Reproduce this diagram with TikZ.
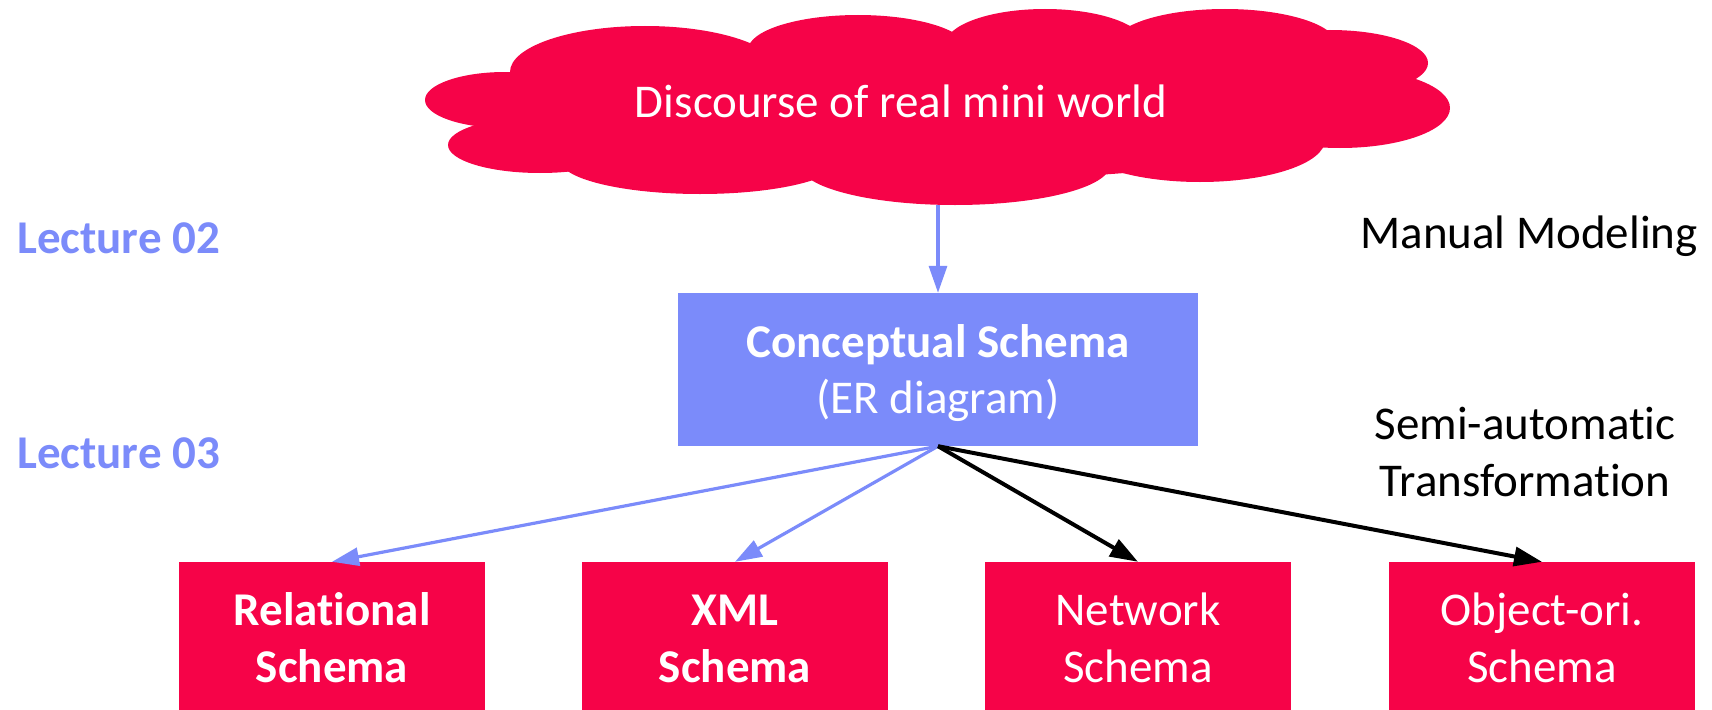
\documentclass[tikz,border=0pt]{standalone}
\usepackage{fontspec}
\setmainfont[Ligatures={NoCommon}]{Carlito}
\usetikzlibrary{arrows.meta}

\definecolor{cloudred}{RGB}{246,3,72}
\definecolor{lecblue}{RGB}{123,139,250}

\tikzset{
  txt/.style={inner sep=0pt, anchor=base, font=\fontsize{47}{57}\selectfont},
  boldtxt/.style={txt, font=\fontsize{47}{57}\selectfont\bfseries},
  redbox/.style={fill=cloudred, draw=none, inner sep=0pt,
                 minimum width=306pt, minimum height=148pt},
  bluebox/.style={fill=lecblue, draw=none, inner sep=0pt,
                  minimum width=520pt, minimum height=153pt},
  bluearrow/.style={draw=lecblue, line width=3.2pt,
                    -{Triangle[length=27pt,width=18pt]}},
  blackarrow/.style={draw=black, line width=4pt,
                     -{Triangle[length=28pt,width=19pt]}},
}

\begin{document}
\begin{tikzpicture}[x=1pt, y=-1pt]
\useasboundingbox (0,0) rectangle (1712,709);

% the cloud: a union of filled ellipses
\begin{scope}[fill=cloudred]
  \fill (937,110) ellipse [x radius=430pt, y radius=70pt];
  \fill (505,100) ellipse [x radius=80pt,  y radius=28pt];
  \fill (540,145) ellipse [x radius=92pt,  y radius=28pt];
  \fill (700,160) ellipse [x radius=140pt, y radius=34pt];
  \fill (955,165) ellipse [x radius=155pt, y radius=40pt];
  \fill (1200,140) ellipse [x radius=125pt, y radius=42pt];
  \fill (1340,108) ellipse [x radius=110pt, y radius=40pt];
  \fill (1330,63) ellipse [x radius=98pt,  y radius=33pt];
  \fill (1225,45) ellipse [x radius=112pt, y radius=36pt];
  \fill (1045,45) ellipse [x radius=100pt, y radius=36pt];
  \fill (858,50) ellipse [x radius=110pt, y radius=35pt];
  \fill (645,72) ellipse [x radius=135pt, y radius=46pt];
\end{scope}
\coordinate (cloudbottom) at (938,205);
\node[txt, text=white] (world) at (901,117) {Discourse of real mini world};

% side labels
\node[boldtxt, anchor=base west, text=lecblue] (lec2) at (17,253) {Lecture 02};
\node[boldtxt, anchor=base west, text=lecblue] (lec3) at (17,468) {Lecture 03};
\node[txt, anchor=base east] (manual) at (1698,248) {Manual Modeling};
\node[txt] (semi) at (1525,439) {Semi-automatic};
\node[txt] (trans) at (1525,496) {Transformation};

% conceptual schema
\node[bluebox] (concept) at (938,369.5) {};
\node[boldtxt, text=white] (conceptA) at (938,357) {Conceptual Schema};
\node[txt, text=white] (conceptB) at (938,413) {(ER diagram)};

% target schemas
\node[redbox] (rel) at (332,636) {};
\node[redbox] (xml) at (735,636) {};
\node[redbox] (net) at (1138,636) {};
\node[redbox] (obj) at (1542,636) {};

\node[boldtxt, text=white] (relA) at (332,625) {Relational};
\node[boldtxt, text=white] (relB) at (332,682) {Schema};
\node[boldtxt, text=white] (xmlA) at (735,625) {XML};
\node[boldtxt, text=white] (xmlB) at (735,682) {Schema};
\node[txt, text=white] (netA) at (1138,625) {Network};
\node[txt, text=white] (netB) at (1138,682) {Schema};
\node[txt, text=white] (objA) at (1542,625) {Object-ori.};
\node[txt, text=white] (objB) at (1542,682) {Schema};

% connectors
\draw[bluearrow] (cloudbottom) -- (concept.north);
\draw[bluearrow] (concept.south) -- (rel.north);
\draw[bluearrow] (concept.south) -- (xml.north);
\draw[blackarrow] (concept.south) -- (net.north);
\draw[blackarrow] (concept.south) -- (obj.north);
\end{tikzpicture}
\end{document}
